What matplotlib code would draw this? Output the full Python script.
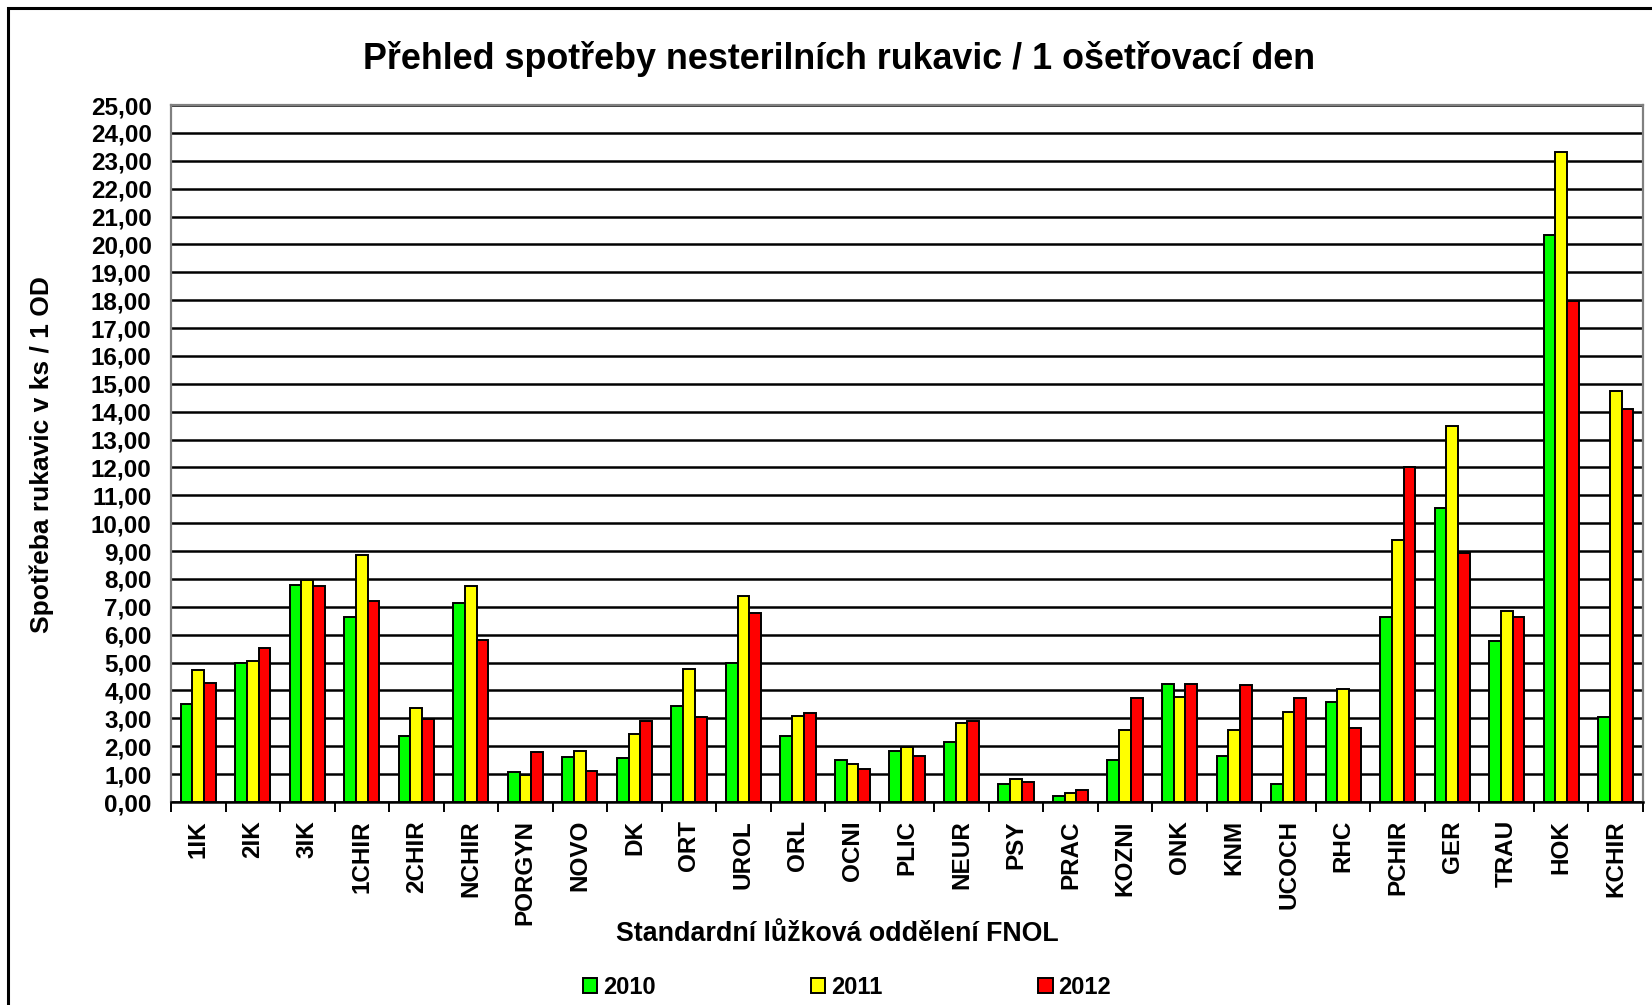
import matplotlib
matplotlib.use("Agg")
import matplotlib.pyplot as plt
from matplotlib.patches import Rectangle, Patch
import numpy as np

plt.rcParams['font.family'] = ['Liberation Sans', 'DejaVu Sans']

categories = ["1IK", "2IK", "3IK", "1CHIR", "2CHIR", "NCHIR", "PORGYN", "NOVO", "DK",
              "ORT", "UROL", "ORL", "OCNI", "PLIC", "NEUR", "PSY", "PRAC", "KOZNI",
              "ONK", "KNM", "UCOCH", "RHC", "PCHIR", "GER", "TRAU", "HOK", "KCHIR"]
v2010 = [3.53, 4.98, 7.80, 6.65, 2.38, 7.12, 1.06, 1.63, 1.58,
         3.44, 4.97, 2.38, 1.50, 1.83, 2.17, 0.64, 0.23, 1.50,
         4.24, 1.65, 0.65, 3.57, 6.64, 10.56, 5.76, 20.35, 3.04]
v2011 = [4.73, 5.07, 7.98, 8.87, 3.38, 7.74, 0.97, 1.84, 2.44,
         4.78, 7.40, 3.10, 1.37, 1.96, 2.84, 0.83, 0.31, 2.58,
         3.78, 2.58, 3.24, 4.04, 9.38, 13.49, 6.84, 23.32, 14.75]
v2012 = [4.26, 5.54, 7.74, 7.20, 2.98, 5.80, 1.79, 1.10, 2.90,
         3.04, 6.79, 3.18, 1.17, 1.65, 2.90, 0.71, 0.43, 3.72,
         4.24, 4.18, 3.72, 2.65, 12.03, 8.92, 6.64, 17.97, 14.08]
years = ["2010", "2011", "2012"]
colors = ["#00FF00", "#FFFF00", "#FF0000"]
yticks = list(range(0, 26))

title = "Přehled spotřeby nesterilních rukavic / 1 ošetřovací den"
ylabel = "Spotřeba rukavic v ks / 1 OD"
xlabel = "Standardní lůžková oddělení FNOL"

W, H = 1652, 1005
fig = plt.figure(figsize=(W / 100, H / 100), dpi=100)

# outer chart frame (cropped: top and left visible)
fig.patches.append(Rectangle((8 / W, -0.1), 1.2, 1 - 8 / H + 0.1, transform=fig.transFigure,
                             fill=False, edgecolor="black", linewidth=2.2))

L, R, T, B = 171, 1643, 105, 802
ax = fig.add_axes([L / W, 1 - B / H, (R - L) / W, (B - T) / H])

x = np.arange(len(categories))
bw = 0.215
for i, (vals, c, yr) in enumerate(zip([v2010, v2011, v2012], colors, years)):
    ax.bar(x + (i - 1) * bw, vals, width=bw, color=c, edgecolor="black",
           linewidth=1.4, label=yr, zorder=3)

ax.set_xlim(-0.5, len(categories) - 0.5)
ax.set_ylim(0, 25)
ax.set_yticks(yticks)
ax.set_yticklabels([f"{v:.2f}".replace(".", ",") for v in yticks],
                   fontsize=17.5, fontweight="bold")
ax.yaxis.grid(True, color="black", linewidth=1.8, zorder=1)
ax.set_axisbelow(True)
ax.tick_params(axis="y", length=0, pad=14)

ax.set_xticks(x)
ax.set_xticklabels(categories, rotation=90, fontsize=17.5, fontweight="bold",
                   va="top", ha="center")
ax.set_xticks(np.arange(-0.5, len(categories)), minor=True)
ax.tick_params(axis="x", which="major", length=0, pad=13)
ax.tick_params(axis="x", which="minor", length=7, width=1.4, color="black")

for s in ["left", "top", "right"]:
    ax.spines[s].set_color("#808080")
    ax.spines[s].set_linewidth(1.6)
ax.spines["bottom"].set_color("black")
ax.spines["bottom"].set_linewidth(1.8)

fig.text(839 / W, 1 - 59 / H, title, fontsize=25.8, fontweight="bold",
         ha="center", va="center")
fig.text(42 / W, 1 - 455 / H, ylabel, fontsize=19, fontweight="bold",
         ha="center", va="center", rotation=90)
fig.text(837 / W, 1 - 934 / H, xlabel, fontsize=19.3, fontweight="bold",
         ha="center", va="center")

handles = [Patch(facecolor=c, edgecolor="black", linewidth=1.4) for c in colors]
fig.legend(handles, years, loc="center", bbox_to_anchor=(847 / W, 1 - 987 / H),
           ncol=3, frameon=False, prop={"size": 17, "weight": "bold"},
           handlelength=0.6, handleheight=0.6, handletextpad=0.25,
           columnspacing=6.6)

fig.savefig("out.png", dpi=100)
